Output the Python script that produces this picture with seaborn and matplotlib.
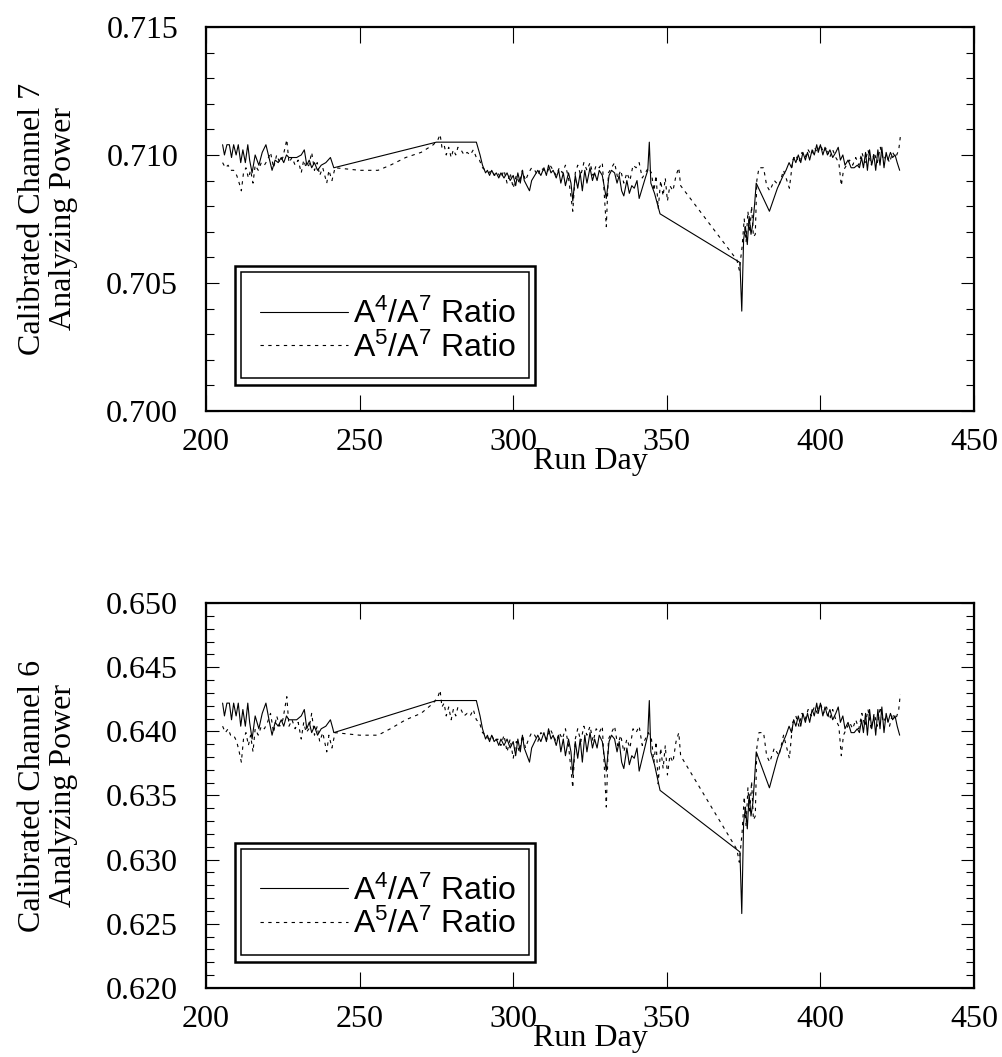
import numpy as np
import pandas as pd
from matplotlib import pyplot as plt
from matplotlib.patches import Rectangle
from matplotlib.ticker import MultipleLocator, FormatStrFormatter
import seaborn as sns

# A4/A7 ratio calibration
days_a4 = [205.4, 206.0, 206.8, 207.6, 208.3, 209.0, 209.8, 210.5, 211.3, 212.0,
           212.8, 213.6, 214.2, 215.0, 216.0, 217.2, 218.3, 219.5, 220.5, 221.5,
           222.5, 223.5, 224.5, 225.3, 226.2, 227.0, 228.0, 229.5, 231.0, 232.0,
           232.8, 233.6, 234.4, 235.3, 236.3, 237.5, 239.0, 240.5, 241.3, 241.6,
           275.0, 288.0, 289.2, 290.0, 291.0, 291.6, 292.3, 293.0, 293.8, 294.5,
           295.3, 296.0, 297.0, 298.0, 299.0, 300.0, 300.8, 301.5, 302.3, 303.0,
           303.6, 305.3, 306.0, 307.0, 308.0, 309.0, 310.0, 310.8, 311.5, 312.3,
           313.0, 314.0, 314.8, 315.5, 316.3, 317.0, 318.0, 318.8, 319.4, 320.2,
           321.0, 321.8, 322.5, 323.3, 324.0, 325.0, 325.8, 326.5, 327.3, 328.0,
           329.0, 330.3, 331.2, 332.0, 333.0, 333.8, 334.5, 335.3, 336.0, 337.0,
           337.8, 338.6, 339.4, 340.3, 341.0, 342.0, 343.0, 343.8, 344.3, 344.8,
           346.0, 347.8, 373.8, 374.4, 375.0, 375.6, 376.2, 376.8, 377.4, 378.0,
           378.6, 379.1, 383.4, 386.0, 387.9, 388.8, 389.8, 390.6, 391.3, 392.0,
           392.8, 393.6, 394.3, 395.1, 395.8, 396.5, 397.3, 398.0, 398.8, 399.3,
           400.0, 400.8, 401.5, 402.3, 403.1, 404.0, 405.0, 405.8, 406.5, 407.3,
           408.0, 409.0, 410.0, 411.0, 412.0, 412.7, 413.4, 414.0, 414.7, 415.3,
           416.0, 416.7, 417.4, 418.0, 418.7, 419.4, 420.0, 420.7, 421.4, 422.0,
           422.8, 423.5, 424.3, 425.0, 425.8]
a4_ch7 = [0.7104, 0.7100, 0.7104, 0.7104, 0.7099, 0.7104, 0.7100, 0.7104, 0.7097, 0.7102,
          0.7097, 0.7104, 0.7098, 0.7093, 0.7100, 0.7096, 0.7101, 0.7104, 0.7099, 0.7094,
          0.7098, 0.7097, 0.7099, 0.7097, 0.7100, 0.7099, 0.7099, 0.7099, 0.7100, 0.7102,
          0.7096, 0.7098, 0.7095, 0.7097, 0.7094, 0.7096, 0.7097, 0.7099, 0.7096, 0.7095,
          0.7105, 0.7105, 0.7100, 0.7096, 0.7093, 0.7094, 0.7092, 0.7094, 0.7092, 0.7093,
          0.7091, 0.7093, 0.7091, 0.7093, 0.7090, 0.7092, 0.7088, 0.7093, 0.7089, 0.7094,
          0.7090, 0.7086, 0.7090, 0.7092, 0.7094, 0.7092, 0.7095, 0.7092, 0.7096, 0.7093,
          0.7094, 0.7091, 0.7094, 0.7089, 0.7093, 0.7088, 0.7093, 0.7089, 0.7082, 0.7092,
          0.7087, 0.7093, 0.7086, 0.7094, 0.7089, 0.7095, 0.7090, 0.7093, 0.7090, 0.7094,
          0.7092, 0.7083, 0.7092, 0.7094, 0.7093, 0.7089, 0.7092, 0.7086, 0.7084, 0.7090,
          0.7085, 0.7088, 0.7087, 0.7090, 0.7083, 0.7087, 0.7091, 0.7094, 0.7105, 0.7089,
          0.7085, 0.7077, 0.7058, 0.7039, 0.7067, 0.7072, 0.7065, 0.7076, 0.7069, 0.7073,
          0.7081, 0.7089, 0.7078, 0.7087, 0.7092, 0.7094, 0.7097, 0.7095, 0.7099, 0.7097,
          0.7100, 0.7097, 0.7101, 0.7098, 0.7101, 0.7098, 0.7102, 0.7100, 0.7104, 0.7101,
          0.7104, 0.7100, 0.7103, 0.7100, 0.7102, 0.7099, 0.7101, 0.7103, 0.7098, 0.7100,
          0.7096, 0.7098, 0.7095, 0.7095, 0.7096, 0.7095, 0.7099, 0.7095, 0.7101, 0.7094,
          0.7102, 0.7096, 0.7100, 0.7094, 0.7102, 0.7096, 0.7103, 0.7095, 0.7101, 0.7098,
          0.7101, 0.7099, 0.7100, 0.7097, 0.7094]
a4_ch6 = [0.6422, 0.6412, 0.6422, 0.6422, 0.6409, 0.6422, 0.6412, 0.6422, 0.6404, 0.6417,
          0.6404, 0.6422, 0.6407, 0.6394, 0.6412, 0.6402, 0.6414, 0.6422, 0.6409, 0.6397,
          0.6407, 0.6404, 0.6409, 0.6404, 0.6412, 0.6409, 0.6409, 0.6409, 0.6412, 0.6417,
          0.6402, 0.6407, 0.6399, 0.6404, 0.6397, 0.6402, 0.6404, 0.6409, 0.6402, 0.6399,
          0.6424, 0.6424, 0.6412, 0.6402, 0.6394, 0.6397, 0.6392, 0.6397, 0.6392, 0.6394,
          0.6389, 0.6394, 0.6389, 0.6394, 0.6387, 0.6392, 0.6381, 0.6394, 0.6384, 0.6397,
          0.6387, 0.6376, 0.6387, 0.6392, 0.6397, 0.6392, 0.6399, 0.6392, 0.6402, 0.6394,
          0.6397, 0.6389, 0.6397, 0.6384, 0.6394, 0.6381, 0.6394, 0.6384, 0.6366, 0.6392,
          0.6379, 0.6394, 0.6376, 0.6397, 0.6384, 0.6399, 0.6387, 0.6394, 0.6387, 0.6397,
          0.6392, 0.6369, 0.6392, 0.6397, 0.6394, 0.6384, 0.6392, 0.6376, 0.6371, 0.6387,
          0.6374, 0.6381, 0.6379, 0.6387, 0.6369, 0.6379, 0.6389, 0.6397, 0.6424, 0.6384,
          0.6374, 0.6354, 0.6306, 0.6258, 0.6329, 0.6341, 0.6324, 0.6351, 0.6334, 0.6344,
          0.6364, 0.6384, 0.6356, 0.6379, 0.6392, 0.6397, 0.6404, 0.6399, 0.6409, 0.6404,
          0.6412, 0.6404, 0.6414, 0.6407, 0.6414, 0.6407, 0.6417, 0.6412, 0.6422, 0.6414,
          0.6422, 0.6412, 0.6419, 0.6412, 0.6417, 0.6409, 0.6414, 0.6419, 0.6407, 0.6412,
          0.6402, 0.6407, 0.6399, 0.6399, 0.6402, 0.6399, 0.6409, 0.6399, 0.6414, 0.6397,
          0.6417, 0.6402, 0.6412, 0.6397, 0.6417, 0.6402, 0.6419, 0.6399, 0.6414, 0.6407,
          0.6414, 0.6409, 0.6412, 0.6404, 0.6397]

# A5/A7 ratio calibration
days_a5 = [205.4, 206.3, 207.2, 208.0, 209.0, 210.0, 210.8, 211.5, 212.2, 213.0,
           213.8, 214.5, 215.3, 216.0, 217.0, 218.0, 219.0, 220.0, 221.0, 222.0,
           223.0, 224.0, 225.0, 226.3, 227.0, 228.0, 229.0, 230.0, 231.0, 231.8,
           232.6, 233.5, 234.4, 235.3, 236.2, 237.0, 238.0, 239.3, 240.0, 241.0,
           242.0, 250.0, 256.0, 260.0, 265.0, 270.0, 274.0, 275.5, 276.2, 276.8,
           277.5, 278.2, 279.0, 279.8, 280.5, 281.3, 282.0, 283.0, 284.0, 285.0,
           286.0, 287.0, 288.0, 289.0, 290.0, 291.0, 292.0, 293.0, 294.0, 295.0,
           296.0, 297.0, 298.0, 299.0, 300.0, 301.0, 302.0, 303.0, 304.0, 305.0,
           306.0, 307.0, 308.0, 309.0, 310.0, 311.0, 312.0, 313.0, 314.0, 315.0,
           316.0, 317.0, 318.0, 319.4, 320.2, 321.0, 322.0, 323.0, 324.0, 325.0,
           326.0, 327.0, 328.0, 329.0, 330.3, 331.0, 332.0, 333.0, 334.0, 335.0,
           336.0, 337.0, 338.0, 339.0, 340.0, 341.0, 342.0, 343.0, 344.0, 345.0,
           345.8, 346.5, 347.2, 348.0, 348.8, 349.5, 350.2, 351.0, 352.0, 353.0,
           353.9, 354.5, 372.8, 373.6, 374.5, 375.2, 375.8, 376.4, 377.0, 377.6,
           378.2, 378.8, 379.3, 380.0, 381.5, 382.5, 383.5, 385.0, 386.5, 388.0,
           389.9, 390.5, 391.0, 392.0, 393.0, 394.0, 395.0, 396.0, 397.0, 398.0,
           399.0, 400.0, 401.0, 402.0, 403.0, 404.0, 405.0, 406.0, 406.8, 407.5,
           408.5, 409.5, 410.5, 411.5, 412.5, 413.5, 414.5, 415.5, 416.5, 417.5,
           418.5, 419.5, 420.5, 421.5, 422.5, 423.5, 424.5, 425.5, 426.0]
a5_ch7 = [0.7097, 0.7095, 0.7096, 0.7094, 0.7094, 0.7092, 0.7089, 0.7086, 0.7093, 0.7095,
          0.7091, 0.7094, 0.7089, 0.7096, 0.7094, 0.7097, 0.7096, 0.7098, 0.7101, 0.7095,
          0.7100, 0.7097, 0.7099, 0.7106, 0.7097, 0.7099, 0.7096, 0.7098, 0.7093, 0.7098,
          0.7095, 0.7096, 0.7101, 0.7094, 0.7097, 0.7092, 0.7095, 0.7089, 0.7094, 0.7090,
          0.7095, 0.7094, 0.7094, 0.7096, 0.7099, 0.7101, 0.7104, 0.7106, 0.7108, 0.7103,
          0.7104, 0.7100, 0.7103, 0.7099, 0.7102, 0.7100, 0.7103, 0.7102, 0.7100, 0.7101,
          0.7100, 0.7102, 0.7099, 0.7098, 0.7095, 0.7094, 0.7093, 0.7094, 0.7092, 0.7093,
          0.7091, 0.7094, 0.7089, 0.7093, 0.7087, 0.7092, 0.7089, 0.7094, 0.7090, 0.7093,
          0.7095, 0.7094, 0.7092, 0.7095, 0.7094, 0.7093, 0.7096, 0.7094, 0.7092, 0.7095,
          0.7093, 0.7096, 0.7091, 0.7078, 0.7093, 0.7096, 0.7092, 0.7097, 0.7094, 0.7097,
          0.7092, 0.7096, 0.7095, 0.7097, 0.7072, 0.7093, 0.7095, 0.7097, 0.7091, 0.7094,
          0.7089, 0.7093, 0.7090, 0.7096, 0.7095, 0.7097, 0.7091, 0.7093, 0.7095, 0.7093,
          0.7086, 0.7092, 0.7079, 0.7090, 0.7084, 0.7091, 0.7082, 0.7088, 0.7086, 0.7092,
          0.7095, 0.7088, 0.7059, 0.7055, 0.7064, 0.7075, 0.7066, 0.7078, 0.7070, 0.7080,
          0.7068, 0.7069, 0.7090, 0.7095, 0.7095, 0.7088, 0.7086, 0.7090, 0.7088, 0.7094,
          0.7087, 0.7093, 0.7098, 0.7100, 0.7097, 0.7101, 0.7099, 0.7102, 0.7100, 0.7103,
          0.7101, 0.7104, 0.7101, 0.7103, 0.7099, 0.7102, 0.7099, 0.7097, 0.7088, 0.7094,
          0.7096, 0.7098, 0.7096, 0.7099, 0.7096, 0.7101, 0.7097, 0.7102, 0.7096, 0.7101,
          0.7097, 0.7103, 0.7098, 0.7100, 0.7097, 0.7101, 0.7099, 0.7102, 0.7107]
a5_ch6 = [0.6404, 0.6399, 0.6402, 0.6397, 0.6397, 0.6392, 0.6384, 0.6376, 0.6394, 0.6399,
          0.6389, 0.6397, 0.6384, 0.6402, 0.6397, 0.6404, 0.6402, 0.6407, 0.6414, 0.6399,
          0.6412, 0.6404, 0.6409, 0.6427, 0.6404, 0.6409, 0.6402, 0.6407, 0.6394, 0.6407,
          0.6399, 0.6402, 0.6414, 0.6397, 0.6404, 0.6392, 0.6399, 0.6384, 0.6397, 0.6387,
          0.6399, 0.6397, 0.6397, 0.6402, 0.6409, 0.6414, 0.6422, 0.6427, 0.6432, 0.6419,
          0.6422, 0.6412, 0.6419, 0.6409, 0.6417, 0.6412, 0.6419, 0.6417, 0.6412, 0.6414,
          0.6412, 0.6417, 0.6409, 0.6407, 0.6399, 0.6397, 0.6394, 0.6397, 0.6392, 0.6394,
          0.6389, 0.6397, 0.6384, 0.6394, 0.6379, 0.6392, 0.6384, 0.6397, 0.6387, 0.6394,
          0.6399, 0.6397, 0.6392, 0.6399, 0.6397, 0.6394, 0.6402, 0.6397, 0.6392, 0.6399,
          0.6394, 0.6402, 0.6389, 0.6356, 0.6394, 0.6402, 0.6392, 0.6404, 0.6397, 0.6404,
          0.6392, 0.6402, 0.6399, 0.6404, 0.6341, 0.6394, 0.6399, 0.6404, 0.6389, 0.6397,
          0.6384, 0.6394, 0.6387, 0.6402, 0.6399, 0.6404, 0.6389, 0.6394, 0.6399, 0.6394,
          0.6376, 0.6392, 0.6359, 0.6387, 0.6371, 0.6389, 0.6366, 0.6381, 0.6376, 0.6392,
          0.6399, 0.6381, 0.6308, 0.6298, 0.6321, 0.6349, 0.6326, 0.6356, 0.6336, 0.6361,
          0.6331, 0.6334, 0.6387, 0.6399, 0.6399, 0.6381, 0.6376, 0.6387, 0.6381, 0.6397,
          0.6379, 0.6394, 0.6407, 0.6412, 0.6404, 0.6414, 0.6409, 0.6417, 0.6412, 0.6419,
          0.6414, 0.6422, 0.6414, 0.6419, 0.6409, 0.6417, 0.6409, 0.6404, 0.6381, 0.6397,
          0.6402, 0.6407, 0.6402, 0.6409, 0.6402, 0.6414, 0.6404, 0.6417, 0.6402, 0.6414,
          0.6404, 0.6419, 0.6407, 0.6412, 0.6404, 0.6414, 0.6409, 0.6417, 0.6429]

channels = ["7", "6"]
y_limits = [(0.700, 0.715), (0.620, 0.650)]

sns.set_theme(style="ticks")
plt.rcParams['font.family'] = ['Liberation Serif', 'DejaVu Serif']
plt.rcParams['mathtext.default'] = 'regular'
for key in ['text.color', 'axes.labelcolor', 'xtick.color', 'ytick.color',
            'xtick.labelcolor', 'ytick.labelcolor']:
    plt.rcParams[key] = 'black'

fig = plt.figure(figsize=(10.03, 10.57), dpi=100)
positions = [[0.2054, 0.6112, 0.7657, 0.3633], [0.2054, 0.0653, 0.7657, 0.3642]]
series = [(a4_ch7, a5_ch7), (a4_ch6, a5_ch6)]

for pos, chan, (a4, a5), ylim in zip(positions, channels, series, y_limits):
    ax = fig.add_axes(pos)
    sns.lineplot(x=days_a4, y=a4, ax=ax, color="black", linewidth=0.8,
                 estimator=None, sort=False, label=r"A$^4$/A$^7$ Ratio")
    sns.lineplot(x=days_a5, y=a5, ax=ax, color="black", linewidth=0.8,
                 linestyle=(0, (3, 4)), estimator=None, sort=False,
                 label=r"A$^5$/A$^7$ Ratio")

    ax.set_xlim(200, 450)
    ax.set_ylim(*ylim)
    ax.xaxis.set_major_locator(MultipleLocator(50))
    ax.yaxis.set_major_locator(MultipleLocator(0.005))
    ax.yaxis.set_minor_locator(MultipleLocator(0.001))
    ax.yaxis.set_major_formatter(FormatStrFormatter("%.3f"))
    ax.tick_params(axis="both", which="both", direction="in", top=True, right=True,
                   labelsize=23, color="black", labelcolor="black", width=0.8)
    ax.tick_params(axis="x", which="major", length=11.5, pad=12)
    ax.tick_params(axis="y", which="major", length=9.5, pad=20)
    ax.tick_params(axis="y", which="minor", length=5.5)
    for sp in ax.spines.values():
        sp.set_linewidth(1.6)
        sp.set_color("black")

    ax.set_xlabel("Run Day", fontsize=23, labelpad=-7, color="black")
    ax.set_ylabel(f"Calibrated Channel {chan}\nAnalyzing Power", fontsize=23,
                  linespacing=1.1, labelpad=20, color="black")

    # double-ruled legend box
    ax.add_patch(Rectangle((0.0378, 0.0677), 0.3906, 0.3099, transform=ax.transAxes,
                           facecolor="white", edgecolor="black", linewidth=1.8, zorder=5))
    ax.add_patch(Rectangle((0.0456, 0.0859), 0.3750, 0.2761, transform=ax.transAxes,
                           facecolor="none", edgecolor="black", linewidth=1.1, zorder=5))
    leg = ax.legend(loc="center left", bbox_to_anchor=(0.0703, 0.2083), frameon=False,
                    prop={"family": "Liberation Sans", "size": 23}, handlelength=2.75,
                    handletextpad=0.15, borderpad=0, borderaxespad=0, labelspacing=0.08)
    for txt in leg.get_texts():
        txt.set_color("black")
    leg.set_zorder(6)

fig.savefig("out.png", dpi=100)
